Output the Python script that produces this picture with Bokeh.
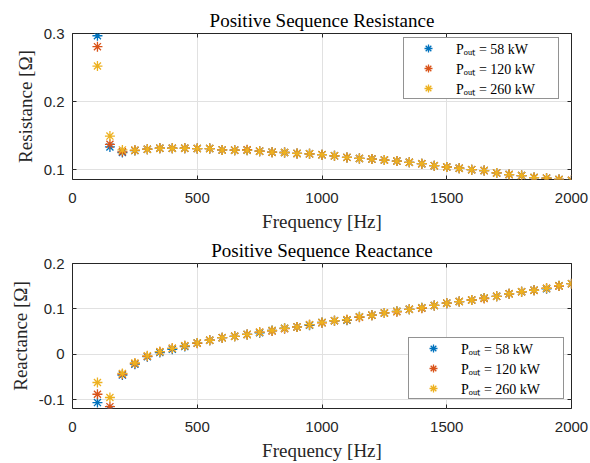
from bokeh.plotting import figure
from bokeh.layouts import column
from bokeh.models import (Legend, LegendItem, LinearAxis, Range1d, NumeralTickFormatter,
                          CustomJSTickFormatter)
from bokeh.embed import file_html
from bokeh.resources import INLINE

freq = [100, 150, 200, 250, 300, 350, 400, 450, 500, 550,
        600, 650, 700, 750, 800, 850, 900, 950, 1000, 1050,
        1100, 1150, 1200, 1250, 1300, 1350, 1400, 1450, 1500, 1550,
        1600, 1650, 1700, 1750, 1800, 1850, 1900, 1950, 2000]

res_58 = [0.2967, 0.1333, 0.1252, 0.1280, 0.1300, 0.1314, 0.1314, 0.1314, 0.1310, 0.1310,
          0.1290, 0.1286, 0.1286, 0.1271, 0.1257, 0.1252, 0.1238, 0.1232, 0.1220, 0.1203,
          0.1180, 0.1165, 0.1155, 0.1141, 0.1126, 0.1107, 0.1087, 0.1058, 0.1039, 0.1020,
          0.1000, 0.0986, 0.0952, 0.0928, 0.0913, 0.0884, 0.0875, 0.0855, 0.0841]
res_120 = [0.2807, 0.1372, 0.1262, 0.1283, 0.1300, 0.1314, 0.1314, 0.1314, 0.1310, 0.1310,
           0.1290, 0.1286, 0.1292, 0.1271, 0.1257, 0.1252, 0.1238, 0.1232, 0.1220, 0.1203,
           0.1180, 0.1165, 0.1155, 0.1141, 0.1126, 0.1107, 0.1087, 0.1058, 0.1039, 0.1020,
           0.1000, 0.0986, 0.0952, 0.0928, 0.0913, 0.0884, 0.0875, 0.0855, 0.0843]
res_260 = [0.2522, 0.1493, 0.1290, 0.1286, 0.1300, 0.1314, 0.1314, 0.1314, 0.1310, 0.1310,
           0.1290, 0.1286, 0.1286, 0.1271, 0.1257, 0.1252, 0.1238, 0.1232, 0.1220, 0.1203,
           0.1180, 0.1165, 0.1155, 0.1141, 0.1126, 0.1107, 0.1087, 0.1058, 0.1039, 0.1020,
           0.1000, 0.0986, 0.0952, 0.0928, 0.0913, 0.0884, 0.0875, 0.0855, 0.0841]

rea_58 = [-0.1060, -0.1210, -0.0455, -0.0215, -0.0050, 0.0040, 0.0112, 0.0172, 0.0253, 0.0311,
          0.0369, 0.0397, 0.0440, 0.0476, 0.0526, 0.0575, 0.0605, 0.0642, 0.0704, 0.0740,
          0.0752, 0.0826, 0.0863, 0.0912, 0.0948, 0.0991, 0.1026, 0.1077, 0.1127, 0.1163,
          0.1197, 0.1240, 0.1277, 0.1335, 0.1378, 0.1412, 0.1443, 0.1513, 0.1556]
rea_120 = [-0.0876, -0.1150, -0.0435, -0.0200, -0.0040, 0.0060, 0.0133, 0.0189, 0.0243, 0.0311,
           0.0369, 0.0397, 0.0440, 0.0489, 0.0516, 0.0566, 0.0605, 0.0655, 0.0695, 0.0740,
           0.0762, 0.0816, 0.0863, 0.0912, 0.0938, 0.0991, 0.1016, 0.1077, 0.1127, 0.1163,
           0.1197, 0.1230, 0.1277, 0.1335, 0.1378, 0.1412, 0.1455, 0.1503, 0.1556]
rea_260 = [-0.0618, -0.0948, -0.0418, -0.0189, -0.0032, 0.0060, 0.0133, 0.0189, 0.0253, 0.0311,
           0.0369, 0.0397, 0.0440, 0.0489, 0.0526, 0.0575, 0.0605, 0.0655, 0.0704, 0.0740,
           0.0762, 0.0826, 0.0863, 0.0912, 0.0948, 0.0991, 0.1026, 0.1077, 0.1127, 0.1163,
           0.1197, 0.1240, 0.1277, 0.1335, 0.1378, 0.1412, 0.1455, 0.1513, 0.1556]

labels = ["P\u2092\u1d64\u209c = 58 kW", "P\u2092\u1d64\u209c = 120 kW", "P\u2092\u1d64\u209c = 260 kW"]
colors = ["#0072BD", "#D95319", "#EDB120"]

x_ticks = [0, 500, 1000, 1500, 2000]
res_ticks = [0.1, 0.2, 0.3]
rea_ticks = [-0.1, 0, 0.1, 0.2]

AX = "#262626"
SERIF = "Liberation Serif"
SANS = "Liberation Sans"


def make_panel(title, ylabel, series, yrange, yticks, height, top, legend_loc, standoff):
    p = figure(width=590, height=height, output_backend="svg", toolbar_location=None,
               x_range=Range1d(0, 2000), y_range=Range1d(*yrange),
               min_border_left=72, min_border_right=19, min_border_top=top,
               min_border_bottom=53)
    p.background_fill_color = "white"
    p.border_fill_color = "white"
    p.outline_line_color = AX
    p.outline_line_width = 1
    p.title.text = title
    p.title.align = "center"
    p.title.text_font = SERIF
    p.title.text_font_size = "19px"
    p.title.text_font_style = "normal"
    p.title.text_color = "black"
    p.title.standoff = standoff

    for ax, ticks in ((p.xaxis, x_ticks), (p.yaxis, yticks)):
        ax.ticker = ticks
        ax.axis_line_color = None
        ax.major_tick_in = 4
        ax.major_tick_out = 0
        ax.major_tick_line_color = AX
        ax.minor_tick_line_color = None
        ax.major_label_text_font = SANS
        ax.major_label_text_font_size = "15px"
        ax.major_label_text_color = AX
        ax.axis_label_text_font = SERIF
        ax.axis_label_text_font_size = "19px"
        ax.axis_label_text_font_style = "normal"
        ax.axis_label_text_color = AX
    p.xaxis.axis_label = "Frequency [Hz]"
    p.yaxis.axis_label = ylabel
    p.xaxis.major_label_standoff = 13
    p.xaxis.axis_label_standoff = 5
    p.yaxis.major_label_standoff = 8
    p.yaxis.axis_label_standoff = 5
    p.yaxis.formatter = NumeralTickFormatter(format="0.[0]")

    p.xgrid.ticker = x_ticks
    p.ygrid.ticker = yticks
    p.grid.grid_line_color = "#e1e1e1"
    p.grid.grid_line_width = 1

    blank = CustomJSTickFormatter(code="return ''")
    top_ax = LinearAxis(ticker=x_ticks, axis_line_color=None, major_tick_in=4,
                        major_tick_out=0, minor_tick_line_color=None,
                        major_tick_line_color=AX, formatter=blank,
                        major_label_text_font_size="1px", major_label_standoff=0)
    right_ax = LinearAxis(ticker=yticks, axis_line_color=None, major_tick_in=4,
                          major_tick_out=0, minor_tick_line_color=None,
                          major_tick_line_color=AX, formatter=blank,
                          major_label_text_font_size="1px", major_label_standoff=0)
    p.add_layout(top_ax, "above")
    p.add_layout(right_ax, "right")

    items = []
    for ys, c, lab in zip(series, colors, labels):
        r = p.scatter(freq, ys, marker="asterisk", size=10, line_color=c, line_width=1.3)
        items.append(LegendItem(label=lab, renderers=[r]))

    leg = Legend(items=items, location=legend_loc, padding=0, spacing=0,
                 glyph_width=48, glyph_height=20, label_height=20, label_standoff=4,
                 label_width=102, label_text_font=SERIF, label_text_font_size="14px",
                 label_text_color="black", border_line_color=AX, border_line_width=1,
                 background_fill_color="white", background_fill_alpha=1.0, margin=0)
    p.add_layout(leg, "center")
    return p


p1 = make_panel("Positive Sequence Resistance", "Resistance [\u03a9]",
                [res_58, res_120, res_260], (0.0855, 0.3), res_ticks, 234, 33, (331, 80), 6)
p2 = make_panel("Positive Sequence Reactance", "Reactance [\u03a9]",
                [rea_58, rea_120, rea_260], (-0.119, 0.2), rea_ticks, 229, 28, (336, 9), 6)

layout = column(p1, p2, spacing=0)
open("out.html", "w").write(file_html(layout, INLINE))
